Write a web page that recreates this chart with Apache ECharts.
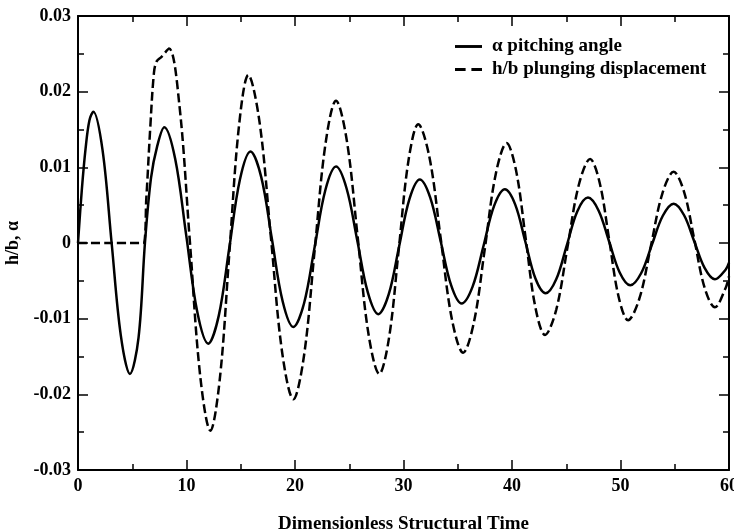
<!DOCTYPE html>
<html>
<head>
<meta charset="utf-8">
<script src="https://cdn.jsdelivr.net/npm/echarts@6/dist/echarts.min.js"></script>
<style>
html,body{margin:0;padding:0;background:#fff;}
#chart{width:734px;height:531px;}
</style>
</head>
<body>
<div id="chart"></div>
<script>
// Dimensionless structural time (x) and responses (y)
var pitchT = [0,0.35,0.7,1.05,1.41,2.26,3.1,3.945,4.79,5.58,6.17,6.73,7.3,7.95,8.96,9.975,10.99,12.0,12.975,13.95,14.925,15.9,16.89,17.875,18.86,19.85,20.83,21.815,22.8,23.78,24.755,25.73,26.705,27.68,28.635,29.59,30.545,31.5,32.465,33.43,34.395,35.36,36.36,37.355,38.35,39.35,40.29,41.225,42.16,43.1,44.075,45.05,46.025,47.0,47.975,48.95,49.925,50.9,51.9,52.9,53.9,54.9,55.85,56.8,57.75,58.7,59.7,60];
var pitchV = [0,0.0070,0.0125,0.0162,0.01735,0.0123,0.0,-0.0122,-0.0173,-0.0125,0.0,0.0086,0.0128,0.0153,0.0111,0.001,-0.0091,-0.0133,-0.0096,-0.0006,0.0084,0.0121,0.0087,0.0005,-0.0077,-0.0111,-0.0080,-0.0005,0.0070,0.0101,0.0072,0.0004,-0.0065,-0.0094,-0.0068,-0.0005,0.0058,0.0084,0.0060,0.0002,-0.0056,-0.0080,-0.0058,-0.0005,0.0049,0.0071,0.0051,0.0002,-0.0047,-0.00665,-0.0048,-0.0003,0.0042,0.0060,0.0043,0.0002,-0.0039,-0.0056,-0.0040,-0.0002,0.0036,0.0052,0.0037,0.0002,-0.0033,-0.0048,-0.0035,-0.0026];
var plungeT = [0,3,6.0,6.3,6.65,7.0,7.25,7.7,8.39,9.34,10.295,11.25,12.2,13.075,13.95,14.825,15.7,16.74,17.775,18.81,19.85,20.83,21.815,22.8,23.78,24.78,25.775,26.77,27.77,28.67,29.565,30.46,31.36,32.395,33.43,34.465,35.5,36.5,37.5,38.5,39.5,40.385,41.27,42.155,43.04,44.08,45.12,46.16,47.2,48.075,48.95,49.825,50.7,51.75,52.8,53.85,54.9,55.85,56.8,57.75,58.7,59.7,60];
var plungeV = [0,0,0,0.006,0.015,0.0225,0.0240,0.0246,0.0257,0.0183,0.0005,-0.0174,-0.0248,-0.0179,-0.0013,0.0153,0.0222,0.0159,0.0008,-0.0144,-0.02065,-0.0149,-0.0009,0.0130,0.0188,0.0135,0.0008,-0.0120,-0.0173,-0.0125,-0.0008,0.0109,0.0157,0.0113,0.0006,-0.0101,-0.0145,-0.0104,-0.0007,0.0091,0.0132,0.0095,0.0005,-0.0085,-0.01215,-0.0088,-0.0005,0.0077,0.0111,0.0080,0.0005,-0.0071,-0.0102,-0.0073,-0.0004,0.0065,0.0094,0.0068,0.0005,-0.0059,-0.0085,-0.0059,-0.0044];
var seriesNames = ['\u03b1 pitching angle', 'h/b plunging displacement'];
var xTitle = 'Dimensionless Structural Time';
var yTitle = 'h/b, \u03b1';

function pairs(t, v) { return t.map(function (x, i) { return [x, v[i]]; }); }

var FONT = 'Liberation Serif';
var axisCommon = {
  axisLine: { show: true, onZero: false, lineStyle: { color: '#000', width: 2 } },
  axisTick: { show: true, inside: true, length: 10, lineStyle: { color: '#000', width: 1.5 } },
  minorTick: { show: true, splitNumber: 2, length: 6, lineStyle: { color: '#000', width: 1.5 } },
  splitLine: { show: false }
};
function ax(extra) { return Object.assign({}, JSON.parse(JSON.stringify(axisCommon)), extra); }

var chart = echarts.init(document.getElementById('chart'), null, { renderer: 'canvas' });
chart.setOption({
  animation: false,
  backgroundColor: '#fff',
  grid: { left: 78, right: 5, top: 16, bottom: 61, containLabel: false, outerBoundsMode: 'none' },
  legend: {
    orient: 'vertical',
    left: 455, top: 37, padding: 0,
    itemWidth: 27, itemHeight: 3, itemGap: 4,
    textStyle: { fontFamily: FONT, fontSize: 19, color: '#000', fontWeight: 'bold', padding: [0, 0, 0, 5] },
    data: [
      { name: seriesNames[0], icon: 'path://M0,0H28V3H0Z' },
      { name: seriesNames[1], icon: 'path://M0,0H11V3H0ZM17,0H28V3H17Z' }
    ]
  },
  xAxis: [
    ax({ type: 'value', position: 'bottom', min: 0, max: 60, interval: 10,
      name: xTitle, nameLocation: 'middle', nameGap: 45,
      nameTextStyle: { fontFamily: FONT, fontSize: 19, color: '#000', fontWeight: 'bold' },
      axisLabel: { show: true, margin: 7, color: '#000', fontFamily: FONT, fontSize: 18, fontWeight: 'bold' } }),
    ax({ type: 'value', position: 'top', min: 0, max: 60, interval: 10, axisLabel: { show: false } })
  ],
  yAxis: [
    ax({ type: 'value', position: 'left', min: -0.03, max: 0.03, interval: 0.01,
      name: yTitle, nameLocation: 'middle', nameGap: 56, nameRotate: 90,
      nameTextStyle: { fontFamily: FONT, fontSize: 18, color: '#000', fontWeight: 'bold' },
      axisLabel: { show: true, margin: 7, color: '#000', fontFamily: FONT, fontSize: 18, fontWeight: 'bold',
        formatter: function (v) { var r = Math.round(v * 100) / 100; return r === 0 ? '0' : r.toFixed(2); } } }),
    ax({ type: 'value', position: 'right', min: -0.03, max: 0.03, interval: 0.01, axisLabel: { show: false } })
  ],
  series: [
    { name: seriesNames[0], type: 'line', xAxisIndex: 0, yAxisIndex: 0, data: pairs(pitchT, pitchV),
      smooth: 0.35, showSymbol: false, symbol: 'none',
      lineStyle: { color: '#000', width: 2.5, type: 'solid' }, itemStyle: { color: '#000' } },
    { name: seriesNames[1], type: 'line', xAxisIndex: 0, yAxisIndex: 0, data: pairs(plungeT, plungeV),
      smooth: 0.35, showSymbol: false, symbol: 'none',
      lineStyle: { color: '#000', width: 2.5, type: [9, 4] }, itemStyle: { color: '#000' } }
  ]
});
</script>
</body>
</html>
